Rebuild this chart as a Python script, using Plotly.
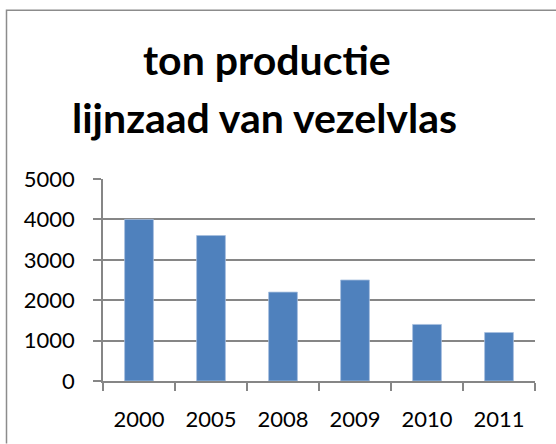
import plotly.graph_objects as go

years = ["2000", "2005", "2008", "2009", "2010", "2011"]
production = [4000, 3600, 2200, 2500, 1400, 1200]
y_ticks = [0, 1000, 2000, 3000, 4000, 5000]
title_lines = ["ton productie", "lijnzaad van vezelvlas"]

W, H = 556, 444
L, R, T, B = 103, 535, 179, 383

def px(x):
    return (x - L) / (R - L)

def py(y):
    return (B - y) / (B - T)

fig = go.Figure(go.Bar(
    x=years, y=production,
    marker=dict(color="#4F81BD", line=dict(color="#A7BFDE", width=0.8)),
    width=0.4,
))

grid = "#868686"
fig.update_layout(
    width=W, height=H,
    margin=dict(l=L, r=W - R, t=T, b=H - B, pad=0),
    paper_bgcolor="white", plot_bgcolor="white",
    showlegend=False,
    font=dict(family="Lato", color="black", size=22),
    xaxis=dict(
        type="category", showgrid=False, showline=True, linecolor=grid, linewidth=1.5,
        ticks="outside", tickson="boundaries", ticklen=8, tickcolor=grid, tickwidth=1.5,
        tickfont=dict(size=22), ticklabelstandoff=18,
    ),
    yaxis=dict(
        range=[0, 5000], tickvals=y_ticks, showgrid=True, gridcolor=grid, gridwidth=1.5,
        showline=True, linecolor=grid, linewidth=1.5, zeroline=False,
        ticks="outside", ticklen=8, tickcolor=grid, tickwidth=1.5,
        tickfont=dict(size=22), ticklabelstandoff=14,
    ),
    shapes=[dict(
        type="path", xref="paper", yref="paper",
        path=f"M {px(6.5)} {py(446)} L {px(6.5)} {py(8.5)} L {px(558)} {py(8.5)}",
        line=dict(color="#8C8C8C", width=1.5),
    )],
    annotations=[
        dict(text=f"<b>{title_lines[0]}</b>", xref="paper", yref="paper",
             x=px(267), y=py(58), xanchor="center", yanchor="middle",
             showarrow=False, font=dict(size=41, family="Lato", color="black")),
        dict(text=f"<b>{title_lines[1]}</b>", xref="paper", yref="paper",
             x=px(264), y=py(117), xanchor="center", yanchor="middle",
             showarrow=False, font=dict(size=41, family="Lato", color="black")),
    ],
)

fig.write_html(
    "out.html",
    config={"displayModeBar": False},
    post_script="document.body.style.margin='0';document.body.style.overflow='hidden';",
)
